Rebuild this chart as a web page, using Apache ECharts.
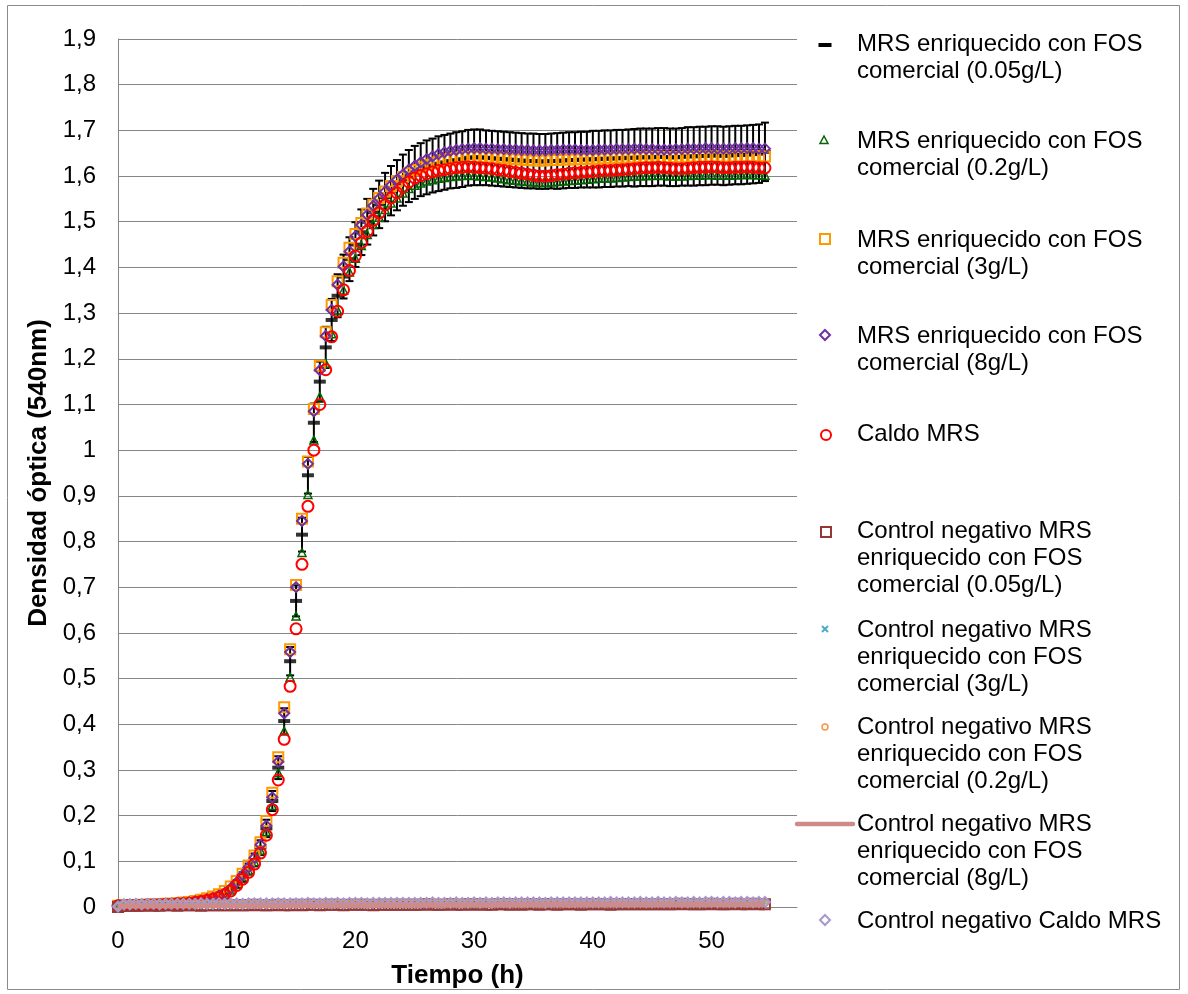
<!DOCTYPE html>
<html>
<head>
<meta charset="utf-8">
<script src="https://cdn.jsdelivr.net/npm/echarts@6/dist/echarts.min.js"></script>
<style>
  html, body { margin: 0; padding: 0; background: #ffffff; }
  #grafico { width: 1188px; height: 994px; }
</style>
</head>
<body>
<div id="grafico"></div>
<script>
// Tiempo de lectura (h)
const tiempo = [
  0,0.5,1,1.5,2,2.5,3,3.5,4,4.5,
  5,5.5,6,6.5,7,7.5,8,8.5,9,9.5,
  10,10.5,11,11.5,12,12.5,13,13.5,14,14.5,
  15,15.5,16,16.5,17,17.5,18,18.5,19,19.5,
  20,20.5,21,21.5,22,22.5,23,23.5,24,24.5,
  25,25.5,26,26.5,27,27.5,28,28.5,29,29.5,
  30,30.5,31,31.5,32,32.5,33,33.5,34,34.5,
  35,35.5,36,36.5,37,37.5,38,38.5,39,39.5,
  40,40.5,41,41.5,42,42.5,43,43.5,44,44.5,
  45,45.5,46,46.5,47,47.5,48,48.5,49,49.5,
  50,50.5,51,51.5,52,52.5,53,53.5,54,54.5
];

// MRS enriquecido con FOS comercial (0.05 g/L): media y desviación
const fos005 = [
  0.003,0.003,0.004,0.004,0.004,0.005,0.005,0.006,0.006,0.006,
  0.007,0.008,0.009,0.011,0.013,0.016,0.019,0.023,0.030,0.039,
  0.051,0.066,0.083,0.103,0.130,0.172,0.232,0.305,0.407,0.538,
  0.670,0.815,0.945,1.060,1.150,1.225,1.285,1.338,1.380,1.418,
  1.450,1.477,1.500,1.521,1.538,1.554,1.568,1.580,1.591,1.600,
  1.608,1.614,1.619,1.623,1.627,1.630,1.633,1.635,1.637,1.640,
  1.641,1.641,1.640,1.639,1.638,1.637,1.636,1.635,1.634,1.633,
  1.633,1.632,1.632,1.633,1.633,1.634,1.635,1.635,1.636,1.636,
  1.637,1.637,1.638,1.638,1.639,1.639,1.640,1.640,1.641,1.641,
  1.641,1.642,1.642,1.641,1.641,1.642,1.643,1.643,1.644,1.644,
  1.645,1.645,1.644,1.645,1.646,1.646,1.647,1.648,1.649,1.653
];
const errFos005 = [
  0.002,0.002,0.002,0.002,0.002,0.002,0.002,0.002,0.002,0.002,
  0.002,0.002,0.003,0.003,0.003,0.003,0.003,0.004,0.005,0.006,
  0.008,0.010,0.012,0.014,0.016,0.019,0.022,0.025,0.028,0.031,
  0.034,0.037,0.040,0.042,0.044,0.045,0.046,0.047,0.048,0.048,
  0.049,0.050,0.050,0.051,0.052,0.053,0.054,0.055,0.056,0.057,
  0.058,0.058,0.059,0.059,0.060,0.060,0.060,0.061,0.061,0.061,
  0.061,0.061,0.060,0.060,0.060,0.060,0.060,0.060,0.060,0.060,
  0.060,0.060,0.060,0.060,0.061,0.061,0.061,0.061,0.061,0.061,
  0.062,0.062,0.062,0.062,0.062,0.062,0.062,0.063,0.063,0.063,
  0.063,0.063,0.063,0.063,0.063,0.063,0.064,0.064,0.064,0.064,
  0.064,0.064,0.064,0.064,0.064,0.064,0.064,0.064,0.064,0.064
];

// MRS enriquecido con FOS comercial (0.2 g/L)
const fos02 = [
  0.003,0.003,0.004,0.004,0.005,0.005,0.005,0.006,0.006,0.006,
  0.007,0.008,0.009,0.010,0.012,0.015,0.018,0.022,0.028,0.037,
  0.049,0.063,0.080,0.099,0.124,0.165,0.222,0.294,0.385,0.503,
  0.637,0.776,0.903,1.022,1.117,1.190,1.255,1.306,1.350,1.390,
  1.420,1.448,1.472,1.494,1.510,1.527,1.541,1.552,1.563,1.573,
  1.580,1.585,1.589,1.592,1.595,1.597,1.599,1.600,1.601,1.602,
  1.601,1.600,1.599,1.598,1.596,1.594,1.592,1.591,1.589,1.588,
  1.587,1.586,1.586,1.587,1.588,1.589,1.590,1.591,1.592,1.593,
  1.594,1.595,1.596,1.596,1.597,1.598,1.599,1.600,1.600,1.601,
  1.601,1.602,1.601,1.600,1.600,1.600,1.601,1.602,1.602,1.603,
  1.603,1.602,1.602,1.602,1.603,1.603,1.604,1.603,1.603,1.602
];

// MRS enriquecido con FOS comercial (3 g/L)
const fos3 = [
  0.003,0.004,0.004,0.004,0.005,0.005,0.006,0.006,0.007,0.007,
  0.008,0.010,0.011,0.013,0.016,0.019,0.023,0.028,0.035,0.045,
  0.057,0.073,0.091,0.113,0.142,0.188,0.250,0.328,0.437,0.564,
  0.705,0.850,0.975,1.090,1.185,1.258,1.318,1.370,1.410,1.443,
  1.473,1.497,1.518,1.537,1.552,1.566,1.578,1.589,1.598,1.606,
  1.613,1.619,1.624,1.628,1.632,1.635,1.638,1.640,1.641,1.642,
  1.642,1.642,1.641,1.640,1.640,1.639,1.638,1.637,1.636,1.635,
  1.634,1.634,1.634,1.635,1.635,1.636,1.636,1.637,1.637,1.638,
  1.638,1.638,1.639,1.639,1.640,1.640,1.640,1.641,1.641,1.641,
  1.642,1.642,1.641,1.641,1.641,1.641,1.642,1.642,1.642,1.643,
  1.643,1.643,1.642,1.642,1.643,1.643,1.644,1.644,1.643,1.643
];

// MRS enriquecido con FOS comercial (8 g/L)
const fos8 = [
  0.003,0.003,0.004,0.004,0.005,0.005,0.005,0.006,0.006,0.007,
  0.008,0.009,0.010,0.012,0.014,0.017,0.020,0.025,0.031,0.041,
  0.054,0.070,0.087,0.108,0.136,0.178,0.240,0.318,0.424,0.558,
  0.700,0.845,0.970,1.085,1.175,1.250,1.307,1.362,1.402,1.435,
  1.468,1.493,1.515,1.535,1.551,1.566,1.580,1.592,1.603,1.614,
  1.622,1.630,1.637,1.643,1.648,1.652,1.655,1.657,1.659,1.660,
  1.661,1.661,1.660,1.660,1.659,1.659,1.658,1.658,1.657,1.657,
  1.656,1.656,1.656,1.657,1.657,1.658,1.658,1.658,1.657,1.657,
  1.657,1.658,1.658,1.658,1.659,1.659,1.659,1.660,1.660,1.659,
  1.659,1.658,1.658,1.658,1.659,1.659,1.660,1.660,1.660,1.661,
  1.661,1.660,1.660,1.660,1.661,1.661,1.661,1.661,1.660,1.660
];

// Caldo MRS
const caldoMRS = [
  0.003,0.003,0.004,0.004,0.004,0.005,0.005,0.005,0.006,0.006,
  0.007,0.007,0.008,0.010,0.012,0.014,0.017,0.021,0.027,0.035,
  0.047,0.061,0.076,0.094,0.118,0.157,0.213,0.278,0.367,0.483,
  0.609,0.750,0.877,1.000,1.100,1.176,1.248,1.304,1.351,1.393,
  1.425,1.454,1.479,1.503,1.519,1.537,1.552,1.563,1.576,1.587,
  1.596,1.601,1.605,1.609,1.612,1.614,1.616,1.618,1.619,1.620,
  1.619,1.618,1.617,1.616,1.614,1.612,1.610,1.608,1.606,1.604,
  1.602,1.600,1.600,1.601,1.603,1.604,1.606,1.607,1.608,1.609,
  1.610,1.611,1.612,1.612,1.613,1.614,1.615,1.616,1.617,1.618,
  1.618,1.619,1.618,1.617,1.616,1.616,1.617,1.618,1.619,1.619,
  1.620,1.619,1.618,1.618,1.619,1.619,1.620,1.619,1.618,1.618
];

// Controles negativos (sin inóculo)
const ctrl005 = [
  0.000,0.003,0.003,0.003,0.003,0.004,0.003,0.003,0.004,0.004,
  0.003,0.004,0.004,0.004,0.003,0.004,0.004,0.004,0.004,0.004,
  0.004,0.004,0.004,0.005,0.004,0.004,0.004,0.005,0.004,0.004,
  0.005,0.004,0.005,0.005,0.004,0.005,0.005,0.005,0.004,0.005,
  0.005,0.005,0.005,0.004,0.005,0.005,0.005,0.005,0.005,0.005,
  0.005,0.005,0.006,0.005,0.005,0.005,0.006,0.005,0.005,0.006,
  0.005,0.006,0.005,0.005,0.006,0.006,0.005,0.006,0.005,0.006,
  0.006,0.005,0.006,0.006,0.005,0.006,0.006,0.006,0.005,0.006,
  0.006,0.006,0.006,0.005,0.006,0.006,0.006,0.006,0.006,0.006,
  0.006,0.006,0.006,0.006,0.006,0.007,0.006,0.006,0.006,0.006,
  0.007,0.006,0.006,0.006,0.007,0.006,0.006,0.007,0.006,0.006
];
const ctrl3 = [
  0.001,0.006,0.006,0.006,0.006,0.006,0.007,0.006,0.006,0.007,
  0.006,0.007,0.007,0.006,0.007,0.007,0.007,0.007,0.007,0.007,
  0.007,0.007,0.007,0.007,0.008,0.007,0.007,0.007,0.008,0.007,
  0.007,0.008,0.008,0.007,0.008,0.008,0.008,0.007,0.008,0.008,
  0.008,0.008,0.008,0.008,0.008,0.008,0.009,0.008,0.008,0.008,
  0.008,0.009,0.008,0.008,0.009,0.008,0.009,0.008,0.009,0.009,
  0.008,0.009,0.009,0.009,0.009,0.009,0.008,0.009,0.009,0.009,
  0.009,0.009,0.009,0.009,0.009,0.010,0.009,0.009,0.009,0.009,
  0.009,0.010,0.009,0.009,0.010,0.009,0.009,0.010,0.009,0.010,
  0.010,0.009,0.010,0.010,0.009,0.010,0.010,0.009,0.010,0.010,
  0.010,0.010,0.009,0.010,0.010,0.010,0.010,0.010,0.009,0.010
];
const ctrl02 = [
  0.001,0.005,0.005,0.005,0.006,0.005,0.005,0.006,0.006,0.005,
  0.006,0.006,0.006,0.006,0.006,0.007,0.006,0.006,0.006,0.007,
  0.007,0.006,0.007,0.007,0.007,0.007,0.006,0.007,0.007,0.007,
  0.007,0.007,0.007,0.008,0.007,0.007,0.007,0.008,0.007,0.007,
  0.008,0.007,0.008,0.008,0.007,0.008,0.008,0.008,0.008,0.008,
  0.008,0.008,0.008,0.008,0.008,0.008,0.008,0.009,0.008,0.008,
  0.008,0.008,0.009,0.008,0.008,0.009,0.008,0.008,0.009,0.008,
  0.009,0.008,0.008,0.009,0.009,0.008,0.009,0.009,0.008,0.009,
  0.009,0.009,0.008,0.009,0.009,0.009,0.009,0.008,0.009,0.009,
  0.009,0.009,0.009,0.009,0.010,0.009,0.009,0.009,0.009,0.010,
  0.009,0.009,0.010,0.009,0.009,0.009,0.010,0.009,0.009,0.009
];
const ctrl8 = [
  0.000,0.002,0.002,0.002,0.002,0.002,0.002,0.003,0.002,0.002,
  0.003,0.002,0.003,0.003,0.003,0.003,0.003,0.003,0.003,0.003,
  0.003,0.003,0.003,0.003,0.003,0.004,0.003,0.003,0.003,0.003,
  0.004,0.003,0.004,0.003,0.004,0.004,0.003,0.004,0.004,0.004,
  0.004,0.004,0.004,0.004,0.004,0.004,0.004,0.004,0.004,0.004,
  0.004,0.004,0.005,0.004,0.004,0.004,0.005,0.004,0.004,0.005,
  0.004,0.005,0.004,0.004,0.005,0.004,0.005,0.005,0.004,0.005,
  0.005,0.004,0.005,0.005,0.005,0.005,0.004,0.005,0.005,0.005,
  0.005,0.005,0.005,0.005,0.005,0.005,0.005,0.005,0.005,0.005,
  0.005,0.005,0.005,0.006,0.005,0.005,0.005,0.005,0.006,0.005,
  0.005,0.006,0.005,0.005,0.005,0.006,0.005,0.005,0.005,0.006
];
const ctrlCaldo = [
  0.001,0.006,0.006,0.007,0.006,0.007,0.007,0.006,0.007,0.007,
  0.007,0.007,0.007,0.007,0.008,0.007,0.007,0.008,0.007,0.008,
  0.008,0.007,0.008,0.008,0.008,0.008,0.008,0.008,0.008,0.008,
  0.008,0.008,0.009,0.008,0.008,0.009,0.008,0.009,0.008,0.009,
  0.009,0.009,0.008,0.009,0.009,0.009,0.009,0.009,0.009,0.009,
  0.009,0.009,0.009,0.010,0.009,0.009,0.009,0.010,0.009,0.009,
  0.010,0.009,0.010,0.009,0.010,0.010,0.009,0.010,0.010,0.010,
  0.010,0.010,0.009,0.010,0.010,0.010,0.010,0.010,0.010,0.010,
  0.010,0.010,0.010,0.011,0.010,0.010,0.010,0.010,0.011,0.010,
  0.010,0.011,0.010,0.010,0.011,0.010,0.010,0.011,0.010,0.011,
  0.011,0.010,0.011,0.011,0.010,0.011,0.011,0.010,0.011,0.011
];

// Nombres de las series (también textos de la leyenda)
const nombres = [
  'MRS enriquecido con FOS\ncomercial (0.05g/L)',
  'MRS enriquecido con FOS\ncomercial (0.2g/L)',
  'MRS enriquecido con FOS\ncomercial (3g/L)',
  'MRS enriquecido con FOS\ncomercial (8g/L)',
  'Caldo MRS',
  'Control negativo MRS\nenriquecido con FOS\ncomercial (0.05g/L)',
  'Control negativo MRS\nenriquecido con FOS\ncomercial (3g/L)',
  'Control negativo MRS\nenriquecido con FOS\ncomercial (0.2g/L)',
  'Control negativo MRS\nenriquecido con FOS\ncomercial (8g/L)',
  'Control negativo Caldo MRS'
];

const COLORES = ['#000000', '#006400', '#FF9900', '#7030A0', '#FF0000',
                 '#953735', '#4BACC6', '#F79646', '#CD8B89', '#A898CC'];
const FUENTE = '"Liberation Sans", Arial, Helvetica, sans-serif';
const pares = v => tiempo.map((t, i) => [t, v[i]]);
const barrasError = tiempo.map((t, i) => [t, fos005[i] - errFos005[i], fos005[i] + errFos005[i]]);

function hueco(nombre, valores, simbolo, tam, color, grosor) {
  return {
    name: nombre, type: 'scatter', data: pares(valores),
    symbol: simbolo, symbolSize: tam,
    itemStyle: { color: 'rgba(0,0,0,0)', borderColor: color, borderWidth: grosor, opacity: 1 },
    emphasis: { disabled: true }
  };
}

// Leyenda a la derecha: icono alineado con la primera línea de cada texto
const LINEA = 27;
const XI = 825;          // centro de los iconos
const XT = 857;          // inicio de los textos
const centrosTexto = [44, 141, 240, 336, 434, 531, 630, 727, 824, 921];
const centrosIcono = [45, 140, 239, 335, 435, 532, 629, 727, 824, 920];
function iconoLeyenda(i, cy) {
  const c = COLORES[i];
  const hueca = w => ({ fill: 'none', stroke: c, lineWidth: w });
  switch (i) {
    case 0: return { type: 'rect', shape: { x: XI - 6.5, y: cy - 2, width: 13, height: 4 }, style: { fill: c } };
    case 1: return { type: 'polygon', shape: { points: [[XI - 1, cy - 4], [XI + 3, cy + 3.5], [XI - 5, cy + 3.5]] }, style: hueca(1.5) };
    case 2: return { type: 'rect', shape: { x: XI - 5, y: cy - 5, width: 10, height: 10 }, style: hueca(2) };
    case 3: return { type: 'polygon', shape: { points: [[XI, cy - 5], [XI + 5, cy], [XI, cy + 5], [XI - 5, cy]] }, style: hueca(2) };
    case 4: return { type: 'circle', shape: { cx: XI + 1, cy: cy, r: 5 }, style: hueca(2) };
    case 5: return { type: 'rect', shape: { x: XI - 4, y: cy - 5, width: 10, height: 10 }, style: hueca(2) };
    case 6: return { type: 'group', children: [
      { type: 'line', shape: { x1: XI - 3, y1: cy - 3, x2: XI + 3, y2: cy + 3 }, style: { stroke: c, lineWidth: 2 } },
      { type: 'line', shape: { x1: XI + 3, y1: cy - 3, x2: XI - 3, y2: cy + 3 }, style: { stroke: c, lineWidth: 2 } }
    ] };
    case 7: return { type: 'circle', shape: { cx: XI, cy: cy, r: 3 }, style: hueca(1.5) };
    case 8: return { type: 'line', shape: { x1: 797, y1: cy, x2: 853, y2: cy }, style: { stroke: c, lineWidth: 4.5, lineCap: 'round' } };
    default: return { type: 'polygon', shape: { points: [[XI, cy - 5], [XI + 5, cy], [XI, cy + 5], [XI - 5, cy]] }, style: hueca(2) };
  }
}
const leyenda = [];
nombres.forEach((nom, i) => {
  leyenda.push(Object.assign({ silent: true }, iconoLeyenda(i, centrosIcono[i])));
  leyenda.push({
    type: 'text', silent: true, x: XT, y: centrosTexto[i] - LINEA / 2,
    style: { text: nom, fontFamily: FUENTE, fontSize: 24, lineHeight: LINEA, fill: '#000', verticalAlign: 'top', align: 'left' }
  });
});

const grafico = echarts.init(document.getElementById('grafico'), null, { renderer: 'canvas' });
grafico.setOption({
  animation: false,
  backgroundColor: '#ffffff',
  textStyle: { fontFamily: FUENTE },
  graphic: [{
    type: 'rect', silent: true, z: -10,
    shape: { x: 7.5, y: 5.5, width: 1172, height: 984 },
    style: { fill: 'none', stroke: '#8a8a8a', lineWidth: 1 }
  }].concat(leyenda),
  grid: { left: 118, top: 39, width: 679, height: 869, containLabel: false },
  xAxis: {
    type: 'value', min: 0, max: 57.2, interval: 10,
    name: 'Tiempo (h)', nameLocation: 'middle', nameGap: 56,
    nameTextStyle: { fontFamily: FUENTE, fontSize: 26, fontWeight: 'bold', color: '#000' },
    axisLine: { show: true, lineStyle: { color: '#868686', width: 1 } },
    axisTick: { show: false },
    splitLine: { show: false },
    axisLabel: {
      fontFamily: FUENTE, fontSize: 24, color: '#000', margin: 22, showMaxLabel: false,
      formatter: v => (Math.abs(v % 10) < 1e-9 ? String(v) : '')
    }
  },
  yAxis: {
    type: 'value', min: 0, max: 1.9, interval: 0.1,
    name: 'Densidad óptica (540nm)', nameLocation: 'middle', nameGap: 66,
    nameTextStyle: { fontFamily: FUENTE, fontSize: 26, fontWeight: 'bold', color: '#000' },
    axisLine: { show: true, lineStyle: { color: '#868686', width: 1 } },
    axisTick: { show: false },
    splitLine: { show: true, lineStyle: { color: '#868686', width: 1 } },
    axisLabel: {
      fontFamily: FUENTE, fontSize: 24, color: '#000', margin: 22,
      formatter: v => String(parseFloat(v.toFixed(1))).replace('.', ',')
    }
  },
  series: [
    {
      name: nombres[0], type: 'scatter', data: pares(fos005),
      symbol: 'rect', symbolSize: [12, 4],
      itemStyle: { color: COLORES[0] }, emphasis: { disabled: true }
    },
    {
      name: 'error', type: 'custom', data: barrasError,
      encode: { x: 0, y: [1, 2] }, silent: true,
      renderItem: function (params, api) {
        const x = api.value(0);
        const pBajo = api.coord([x, api.value(1)]);
        const pAlto = api.coord([x, api.value(2)]);
        const w = 4;
        const st = { stroke: '#000000', lineWidth: 2 };
        return {
          type: 'group',
          children: [
            { type: 'line', shape: { x1: pBajo[0], y1: pBajo[1], x2: pAlto[0], y2: pAlto[1] }, style: st },
            { type: 'line', shape: { x1: pBajo[0] - w, y1: pBajo[1], x2: pBajo[0] + w, y2: pBajo[1] }, style: st },
            { type: 'line', shape: { x1: pAlto[0] - w, y1: pAlto[1], x2: pAlto[0] + w, y2: pAlto[1] }, style: st }
          ]
        };
      }
    },
    hueco(nombres[1], fos02, 'triangle', 8, COLORES[1], 1.5),
    hueco(nombres[2], fos3, 'rect', 10, COLORES[2], 2),
    hueco(nombres[3], fos8, 'diamond', 10, COLORES[3], 2),
    hueco(nombres[4], caldoMRS, 'circle', 11, COLORES[4], 2),
    hueco(nombres[5], ctrl005, 'rect', 10, COLORES[5], 2),
    {
      name: nombres[6], type: 'scatter', data: pares(ctrl3),
      symbol: 'path://M0,0L10,10M10,0L0,10', symbolSize: 6,
      itemStyle: { color: COLORES[6], borderColor: COLORES[6], borderWidth: 2 },
      emphasis: { disabled: true }
    },
    hueco(nombres[7], ctrl02, 'circle', 6, COLORES[7], 1.5),
    {
      name: nombres[8], type: 'line', data: pares(ctrl8),
      symbol: 'none', showSymbol: false,
      lineStyle: { color: COLORES[8], width: 5 },
      itemStyle: { color: COLORES[8] },
      emphasis: { disabled: true }
    },
    hueco(nombres[9], ctrlCaldo, 'diamond', 10, COLORES[9], 2)
  ]
});
</script>
</body>
</html>
